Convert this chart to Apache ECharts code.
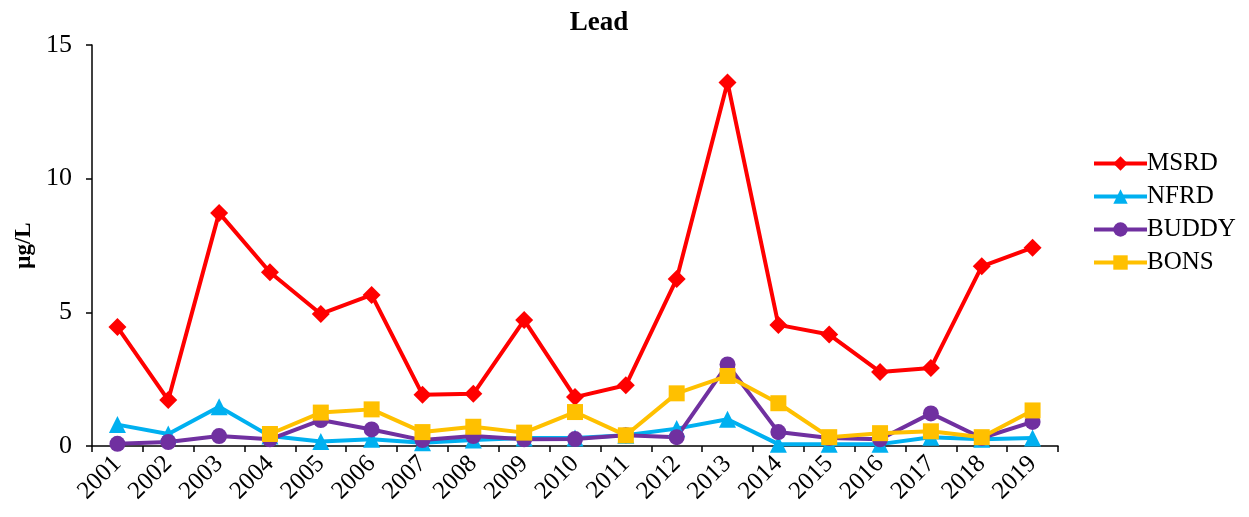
<!DOCTYPE html>
<html>
<head>
<meta charset="utf-8">
<title>Lead</title>
<script src="https://cdn.jsdelivr.net/npm/echarts@6/dist/echarts.min.js"></script>
<style>
  html, body { margin: 0; padding: 0; background: #fff; }
  #chart { width: 1249px; height: 517px; }
</style>
</head>
<body>
<div id="chart"></div>
<script>
var years = ['2001', '2002', '2003', '2004', '2005', '2006', '2007', '2008', '2009', '2010',
             '2011', '2012', '2013', '2014', '2015', '2016', '2017', '2018', '2019'];
var msrd  = [4.45, 1.72, 8.72, 6.5, 4.94, 5.65, 1.92, 1.95, 4.71, 1.83, 2.27, 6.25, 13.6, 4.53, 4.17, 2.77, 2.92, 6.72, 7.42];
var nfrd  = [0.8, 0.45, 1.47, 0.37, 0.17, 0.25, 0.12, 0.22, 0.3, 0.3, 0.4, 0.65, 1.0, 0.07, 0.07, 0.07, 0.33, 0.25, 0.3];
var buddy = [0.08, 0.15, 0.37, 0.25, 0.97, 0.62, 0.22, 0.37, 0.25, 0.26, 0.4, 0.33, 3.05, 0.52, 0.3, 0.25, 1.22, 0.3, 0.9];
var bons  = [null, null, null, 0.45, 1.25, 1.37, 0.52, 0.72, 0.5, 1.27, 0.4, 1.97, 2.62, 1.6, 0.33, 0.48, 0.55, 0.33, 1.33];

var font = 'Liberation Serif';

function line(name, data, color, symbol, size) {
    return {
        name: name,
        type: 'line',
        data: data,
        symbol: symbol,
        symbolSize: size,
        lineStyle: { color: color, width: 4 },
        itemStyle: { color: color },
        animation: false
    };
}

var chart = echarts.init(document.getElementById('chart'));
chart.setOption({
    backgroundColor: '#fff',
    title: {
        text: 'Lead',
        left: 594,
        textAlign: 'center',
        top: 5,
        textStyle: { fontFamily: font, fontSize: 27, fontWeight: 'bold', color: '#000' }
    },
    legend: {
        orient: 'vertical',
        left: 1087,
        top: 146,
        itemWidth: 53,
        itemHeight: 18,
        itemGap: 8,
        lineStyle: { width: 4 },
        textStyle: { fontFamily: font, fontSize: 25, color: '#000', padding: [0, 0, 0, -5] },
        data: ['MSRD', 'NFRD', 'BUDDY', 'BONS']
    },
    grid: { left: 92, right: 191, top: 45, bottom: 71 },
    xAxis: {
        type: 'category',
        data: years,
        boundaryGap: true,
        axisLine: { lineStyle: { color: '#000', width: 1.5 } },
        axisTick: { show: true, length: 6, lineStyle: { color: '#000', width: 1.5 } },
        axisLabel: { rotate: 45, fontFamily: font, fontSize: 25, color: '#000', margin: 14 }
    },
    yAxis: {
        type: 'value',
        min: 0,
        max: 15,
        interval: 5,
        name: 'μg/L',
        nameLocation: 'middle',
        nameGap: 56,
        nameTextStyle: { fontFamily: font, fontSize: 23, fontWeight: 'bold', color: '#000' },
        splitLine: { show: false },
        axisLine: { show: true, lineStyle: { color: '#000', width: 1.5 } },
        axisTick: { show: true, length: 6, lineStyle: { color: '#000', width: 1.5 } },
        axisLabel: { fontFamily: font, fontSize: 26, color: '#000', margin: 20 }
    },
    series: [
        line('MSRD', msrd, '#FF0000', 'diamond', 18),
        line('NFRD', nfrd, '#00B0F0', 'triangle', 17),
        line('BUDDY', buddy, '#7030A0', 'circle', 16),
        line('BONS', bons, '#FFC000', 'rect', 16)
    ]
});
</script>
</body>
</html>
